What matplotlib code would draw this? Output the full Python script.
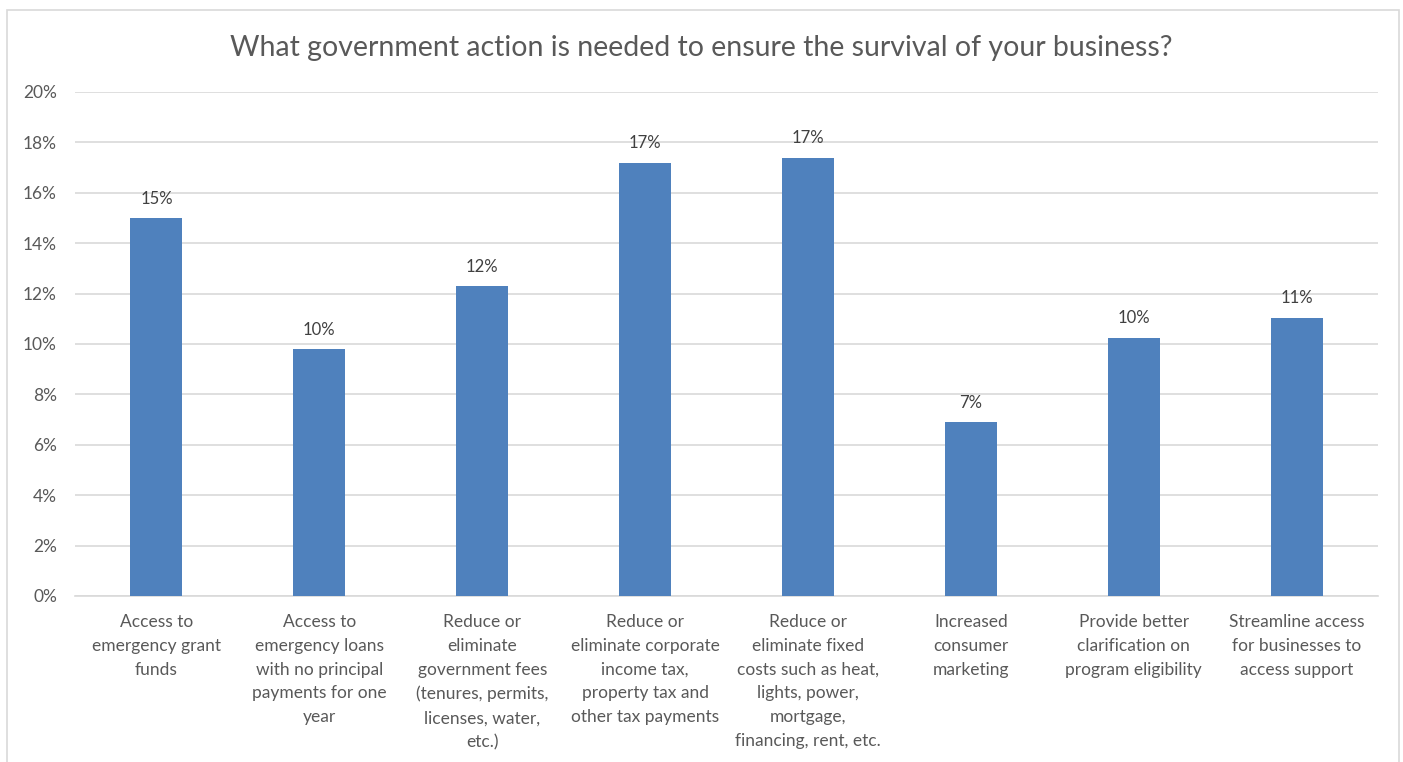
import matplotlib.pyplot as plt
from matplotlib.patches import Rectangle

# Veriler
kategoriler = [
    "Access to\nemergency grant\nfunds",
    "Access to\nemergency loans\nwith no principal\npayments for one\nyear",
    "Reduce or\neliminate\ngovernment fees\n(tenures, permits,\nlicenses, water,\netc.)",
    "Reduce or\neliminate corporate\nincome tax,\nproperty tax and\nother tax payments",
    "Reduce or\neliminate fixed\ncosts such as heat,\nlights, power,\nmortgage,\nfinancing, rent, etc.",
    "Increased\nconsumer\nmarketing",
    "Provide better\nclarification on\nprogram eligibility",
    "Streamline access\nfor businesses to\naccess support",
]
degerler = [15.0, 9.8, 12.3, 17.2, 17.4, 6.9, 10.25, 11.05]
etiketler = ["15%", "10%", "12%", "17%", "17%", "7%", "10%", "11%"]
y_ticks = [0, 2, 4, 6, 8, 10, 12, 14, 16, 18, 20]

plt.rcParams['font.family'] = ['Lato', 'DejaVu Sans']
gri = '#595959'

fig = plt.figure(figsize=(14.03, 7.62), dpi=100)
fig.patches.append(Rectangle((7 / 1403, -0.01), 1392 / 1403, 1 - 10 / 762 + 0.01,
                             transform=fig.transFigure, fill=False,
                             edgecolor='#d9d9d9', linewidth=1.2))
ax = fig.add_axes([75 / 1403, 1 - 596 / 762, 1303 / 1403, 504 / 762])

x = range(len(kategoriler))
ax.bar(x, degerler, width=0.32, color='#4F81BD', zorder=3)
for i, (v, t) in enumerate(zip(degerler, etiketler)):
    ax.text(i, v + 0.45, t, ha='center', va='bottom', fontsize=12, color='#404040')

ax.set_xlim(-0.5, len(kategoriler) - 0.5)
ax.set_ylim(0, 20)
ax.set_yticks(y_ticks)
ax.set_yticklabels([f"{t}%" for t in y_ticks])
ax.set_xticks(list(x))
ax.set_xticklabels(kategoriler, fontsize=12.5, color=gri, linespacing=1.6, va='top')
ax.tick_params(axis='y', length=0, labelsize=12.5, labelcolor=gri, pad=13)
ax.tick_params(axis='x', length=0, pad=13)
ax.grid(axis='y', color='#d9d9d9', linewidth=1.2, zorder=0)
for s in ['top', 'right', 'left']:
    ax.spines[s].set_visible(False)
ax.spines['bottom'].set_color('#d9d9d9')
ax.spines['bottom'].set_linewidth(1.2)

fig.text(0.5, 1 - 48 / 762, "What government action is needed to ensure the survival of your business?",
         ha='center', va='center', fontsize=20.5, color=gri)

plt.savefig('out.png', dpi=100)
